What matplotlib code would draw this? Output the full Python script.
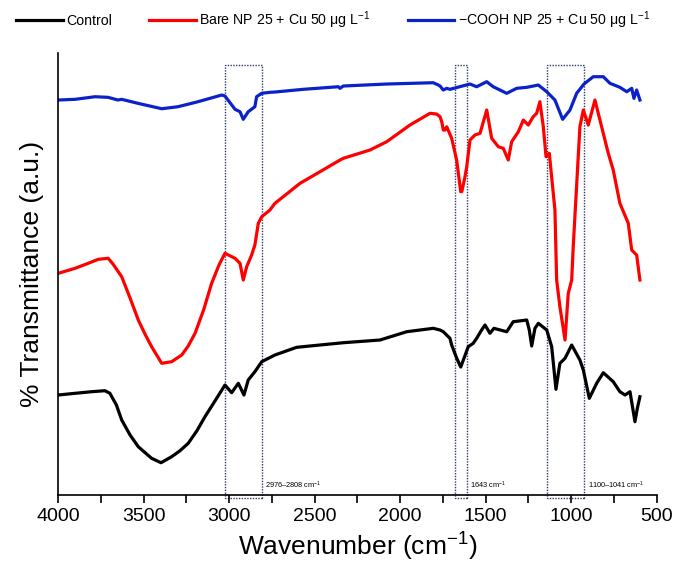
import matplotlib
matplotlib.use("Agg")
import matplotlib.pyplot as plt
from matplotlib.patches import Rectangle

plt.rcParams["font.family"] = ["Liberation Sans", "DejaVu Sans"]
plt.rcParams["mathtext.fontset"] = "custom"
plt.rcParams["mathtext.rm"] = "Liberation Sans"

# FTIR spectra, wavenumber (cm-1) vs transmittance (a.u., stacked)
wn_blue = [4000, 3902, 3785, 3709, 3651, 3629, 3534, 3395, 3300, 3183, 3044, 3025,
           2966, 2937, 2918, 2889, 2850, 2840, 2810, 2762, 2733, 2567, 2362, 2352,
           2333, 2079, 1807, 1777, 1767, 1748, 1728, 1709, 1670, 1592, 1553, 1494,
           1456, 1377, 1319, 1260, 1192, 1143, 1095, 1050, 1007, 968, 925, 871,
           812, 773, 715, 675, 646, 633, 617, 598]
t_blue = [395, 395.7, 398.3, 397.7, 395, 395.7, 391.7, 386.3, 388.3, 393.3, 400, 399,
          385.7, 383.3, 375.7, 383.3, 388.3, 398.3, 401.7, 402.7, 403, 405.7, 408.3, 406.7,
          409, 411, 412.3, 410, 409, 405, 406.7, 405.7, 407.5, 411, 408.3, 413.3,
          408.3, 401.7, 406.7, 407.7, 410, 403.3, 395, 375.7, 385, 401.7, 411, 418.3,
          418.3, 411.7, 407.7, 403.3, 406.7, 396.7, 405, 395]

wn_red = [4000, 3902, 3825, 3766, 3708, 3680, 3629, 3580, 3532, 3490, 3454, 3395,
          3337, 3278, 3240, 3200, 3150, 3103, 3060, 3025, 2966, 2937, 2918, 2898,
          2869, 2850, 2830, 2810, 2762, 2733, 2684, 2586, 2469, 2352, 2333, 2177,
          2079, 1943, 1826, 1787, 1767, 1757, 1748, 1738, 1728, 1699, 1670, 1646,
          1640, 1621, 1611, 1592, 1563, 1533, 1494, 1465, 1426, 1397, 1368, 1348,
          1309, 1280, 1251, 1222, 1202, 1183, 1163, 1147, 1128, 1095, 1085, 1066,
          1036, 1017, 997, 988, 949, 929, 900, 861, 822, 783, 754, 715, 666, 646,
          617, 598]
t_red = [221.7, 226.7, 231.7, 235.7, 236.7, 231, 218.3, 197, 175, 160, 148.3, 131.7,
         133.3, 140, 149, 161.7, 185, 211.7, 230, 241.7, 236.7, 231.7, 215, 228.3,
         240, 250, 271.7, 278.3, 285, 291.7, 298.3, 311.7, 323.3, 335, 336.7, 345,
         353.3, 370, 381.7, 381, 378.3, 373.3, 365, 365, 368.3, 356.7, 335, 303.3,
         303.3, 318.3, 328.3, 355, 360, 361.7, 385, 356.7, 348.3, 346.7, 335, 353.3,
         363.3, 375, 370, 378.3, 381.7, 393.3, 368.3, 338.3, 341.7, 285, 215, 188.3,
         155, 201.7, 215, 248.3, 368.3, 385, 370, 395, 368.3, 341.7, 325, 291.7, 271.7, 245,
         240, 215]

wn_black = [4000, 3902, 3805, 3727, 3698, 3660, 3629, 3580, 3532, 3490, 3454, 3399,
            3337, 3290, 3240, 3190, 3142, 3080, 3025, 2986, 2947, 2914, 2889, 2850,
            2810, 2733, 2606, 2333, 2118, 1962, 1807, 1767, 1748, 1709, 1699, 1670,
            1646, 1602, 1573, 1553, 1524, 1504, 1475, 1452, 1377, 1339, 1260, 1245,
            1231, 1212, 1192, 1143, 1114, 1089, 1066, 1036, 997, 949, 929, 894,
            851, 812, 754, 715, 685, 656, 627, 613, 598]
t_black = [100, 101.7, 103.3, 104.3, 101.7, 90, 75, 60, 48.3, 42, 36.7, 32.3,
           38.3, 44, 51.7, 64, 78.3, 95, 110, 102.3, 111.7, 100, 115, 123.3,
           133.3, 140, 147.7, 152.3, 155, 163.3, 166.7, 165, 163.3, 156.7, 150, 137,
           128, 148.3, 151.7, 156.7, 165, 170, 161.7, 166.7, 163.3, 173.3, 175, 165,
           149, 166.7, 171.7, 165, 148.3, 105.7, 131.7, 136.7, 150, 135, 125, 96.7,
           111.7, 122.3, 113.3, 103.3, 100, 103.3, 73.3, 86.7, 98.3]

# highlighted bands (cm-1) and their labels
band_lo = [2810, 1611, 924]
band_hi = [3025, 1678, 1140]
band_text = ["2976\u20132808 cm$\\mathregular{^{-1}}$", "1643 cm$\\mathregular{^{-1}}$",
             "1100\u20131041 cm$\\mathregular{^{-1}}$"]

labels = ["Control", "Bare NP 25 + Cu 50 \u03bcg L$\\mathregular{^{-1}}$",
          "\u2212COOH NP 25 + Cu 50 \u03bcg L$\\mathregular{^{-1}}$"]

fig = plt.figure(figsize=(6.76, 5.72), dpi=100)
ax = fig.add_axes([0.0862, 0.1346, 0.8852, 0.7727])

l1, = ax.plot(wn_black, t_black, color="black", lw=2.3)
l2, = ax.plot(wn_red, t_red, color="#ff0000", lw=2.3)
l3, = ax.plot(wn_blue, t_blue, color="#0a22c8", lw=2.3)

for lo, hi, txt in zip(band_lo, band_hi, band_text):
    ax.add_patch(Rectangle((lo, -3.3), hi - lo, 433.3, fill=False, ec="#2e3b63",
                           ls=(0, (1, 1)), lw=1.0, clip_on=False))
    ax.text(lo - 20, 10, txt, fontsize=5.3, ha="left", va="center")

ax.set_xlim(4000, 500)
ax.set_ylim(0, 442)
ax.set_xticks([4000, 3500, 3000, 2500, 2000, 1500, 1000, 500])
ax.set_xticks([3750, 3250, 2750, 2250, 1750, 1250, 750], minor=True)
ax.tick_params(axis="x", which="both", direction="out", length=6, width=1.2, labelsize=14)
ax.set_yticks([])
for s in ["top", "right"]:
    ax.spines[s].set_visible(False)
for s in ["left", "bottom"]:
    ax.spines[s].set_linewidth(1.2)

ax.set_xlabel("Wavenumber (cm$\\mathregular{^{-1}}$)", fontsize=19, labelpad=4)
ax.set_ylabel("% Transmittance (a.u.)", fontsize=19, labelpad=10)

fig.legend([l1, l2, l3], labels, loc="center left", bbox_to_anchor=(16 / 676, 1 - 20 / 572),
           ncol=3, frameon=False, fontsize=10.2, handlelength=3.3, handletextpad=0.25,
           columnspacing=2.6, borderpad=0, borderaxespad=0)

fig.savefig("out.png", dpi=100)
